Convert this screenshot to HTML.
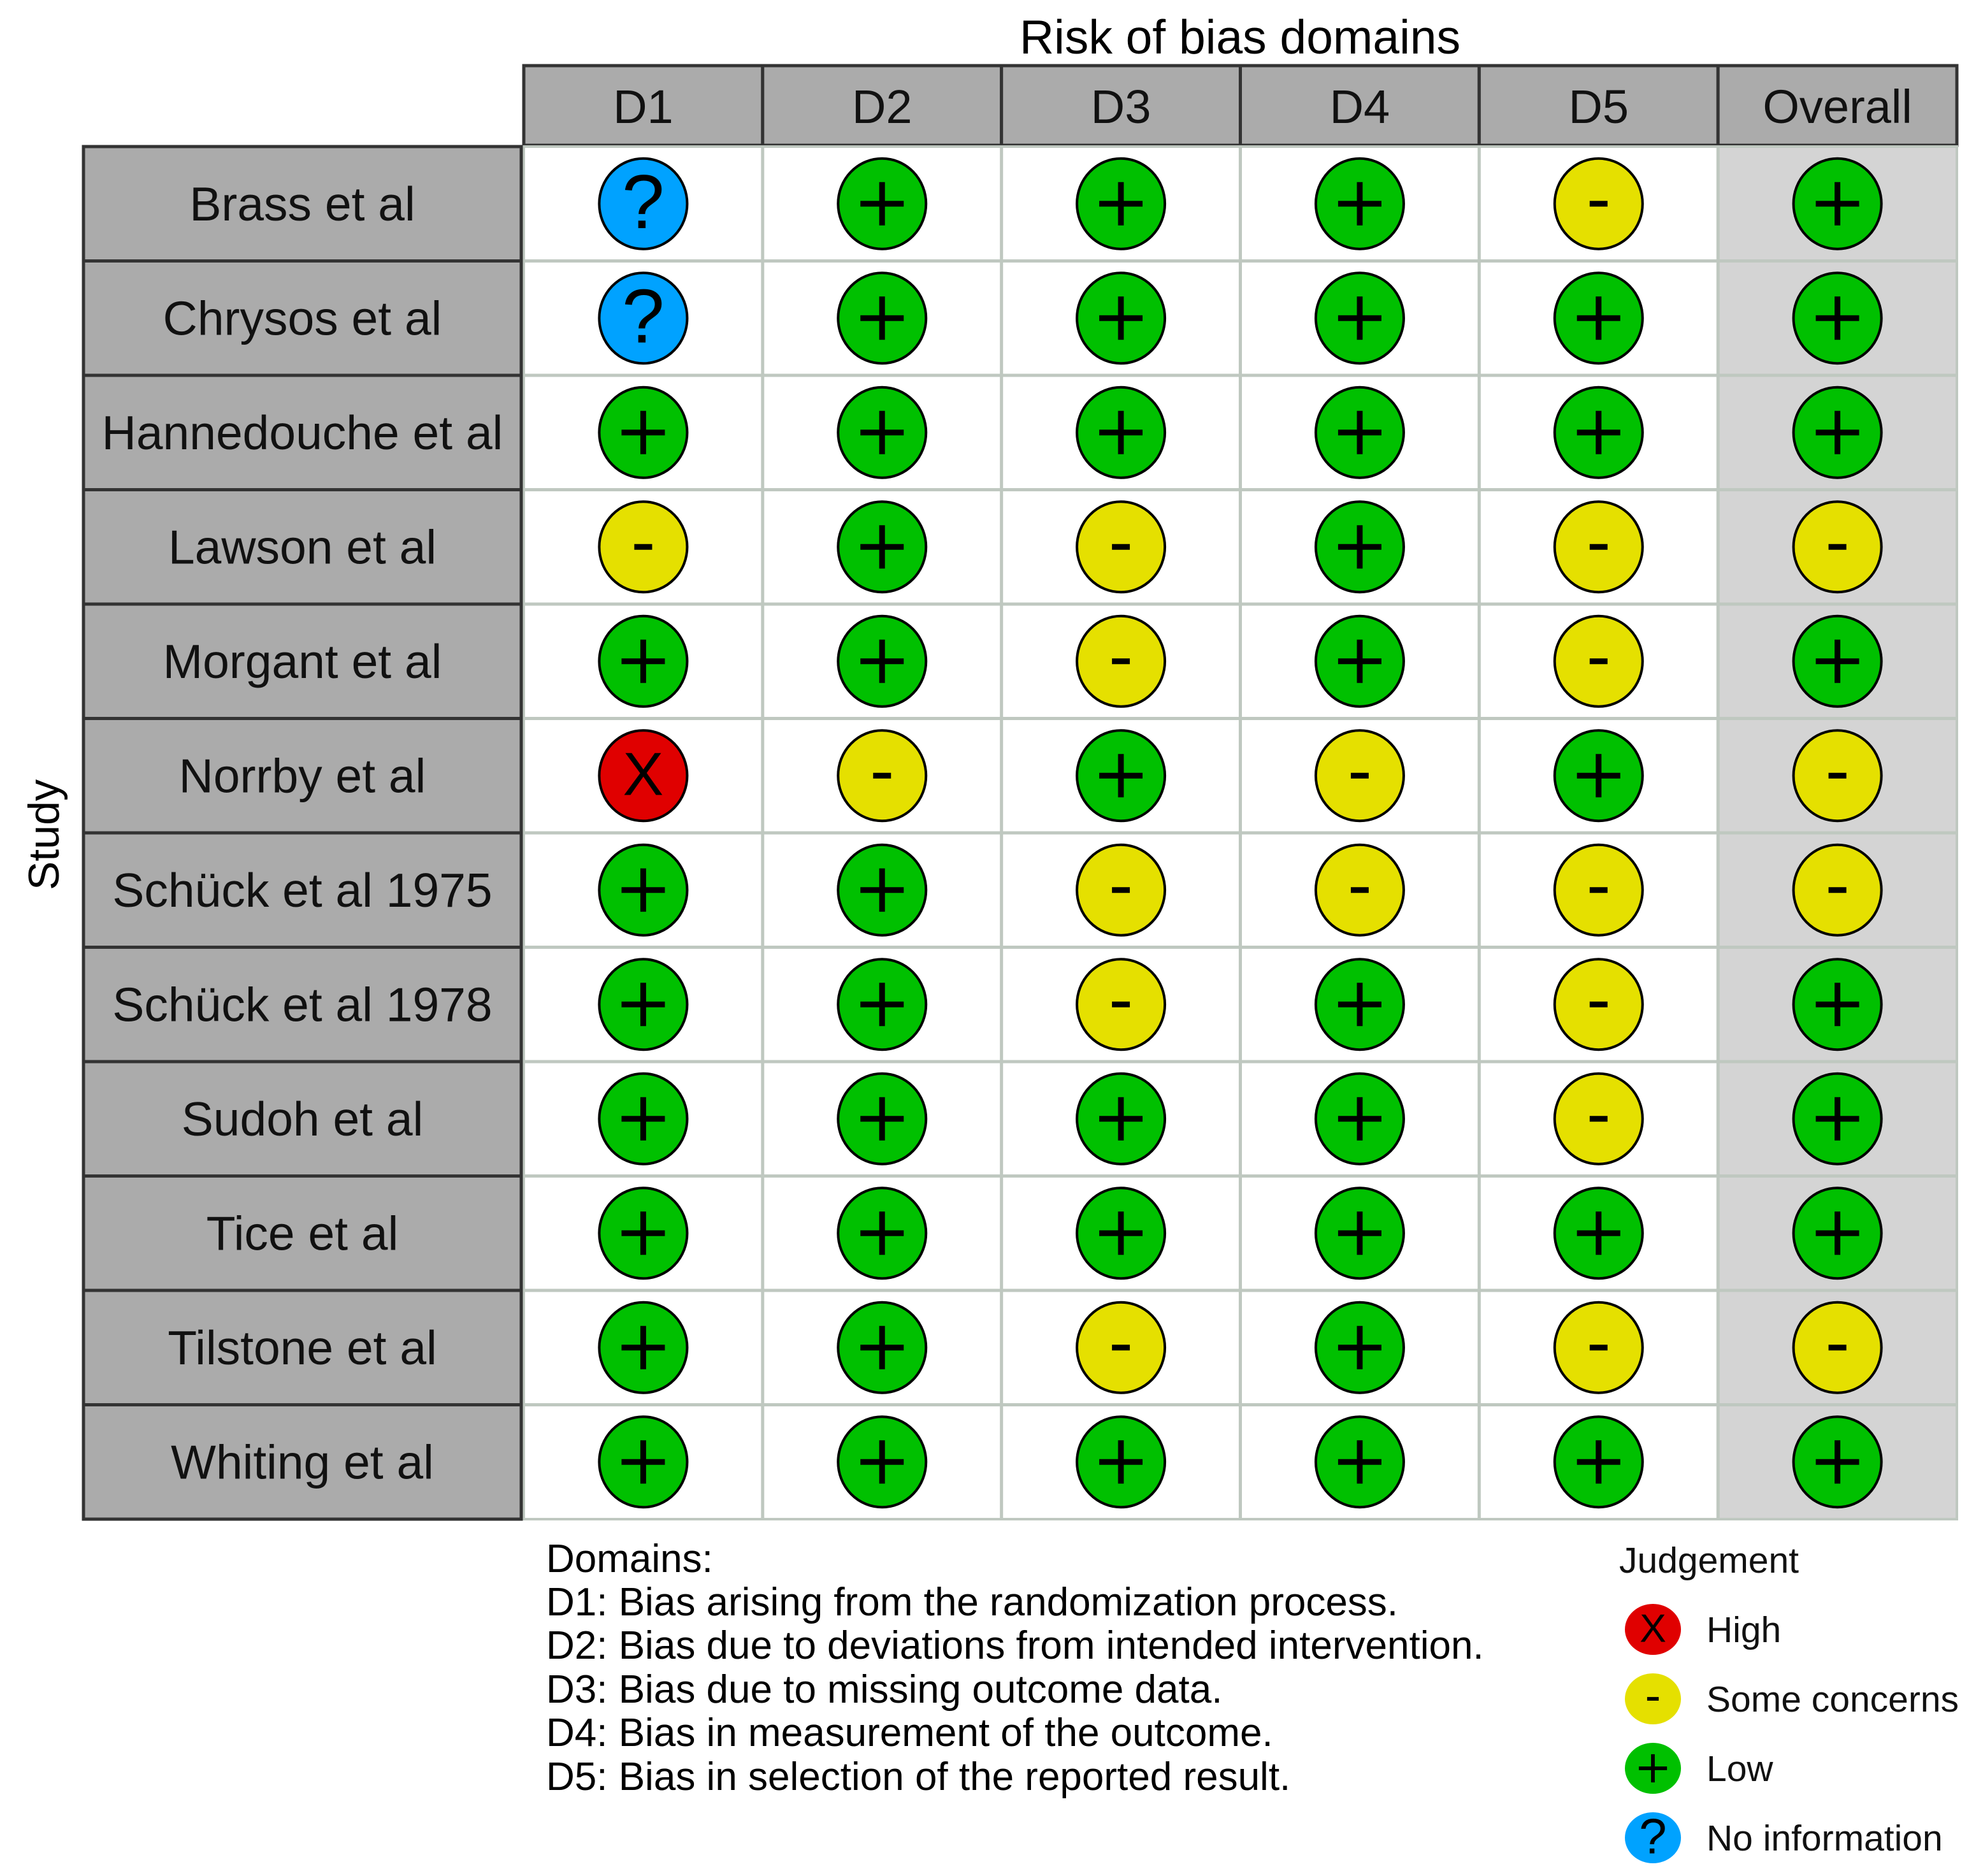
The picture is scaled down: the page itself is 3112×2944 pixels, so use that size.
<!DOCTYPE html>
<html><head><meta charset="utf-8"><style>
html,body{margin:0;padding:0;background:#fff;}
svg{display:block;font-family:"Liberation Sans",Arial,sans-serif;}
</style></head><body>
<svg id="chart" width="3112" height="2944" viewBox="0 0 3112 2944" xmlns="http://www.w3.org/2000/svg">
<text x="1946" y="84" font-size="75" text-anchor="middle" fill="#000">Risk of bias domains</text>
<text transform="translate(92,1310) rotate(-90)" font-size="68" text-anchor="middle" fill="#000">Study</text>
<g id="grid"></g>
<g id="legend-domains" font-size="62" fill="#000">
<text x="857" y="2467">Domains:</text>
<text x="857" y="2535">D1: Bias arising from the randomization process.</text>
<text x="857" y="2603">D2: Bias due to deviations from intended intervention.</text>
<text x="857" y="2672">D3: Bias due to missing outcome data.</text>
<text x="857" y="2740">D4: Bias in measurement of the outcome.</text>
<text x="857" y="2809">D5: Bias in selection of the reported result.</text>
</g>
<g id="legend"></g>
</svg>
<script>
const studies=["Brass et al","Chrysos et al","Hannedouche et al","Lawson et al","Morgant et al","Norrby et al","Schück et al 1975","Schück et al 1978","Sudoh et al","Tice et al","Tilstone et al","Whiting et al"];
const domains=["D1","D2","D3","D4","D5","Overall"];
const judgements=[
["N","L","L","L","S","L"],
["N","L","L","L","L","L"],
["L","L","L","L","L","L"],
["S","L","S","L","S","S"],
["L","L","S","L","S","L"],
["H","S","L","S","L","S"],
["L","L","S","S","S","S"],
["L","L","S","L","S","L"],
["L","L","L","L","S","L"],
["L","L","L","L","L","L"],
["L","L","S","L","S","S"],
["L","L","L","L","L","L"]];
const legendKeys=["H","S","L","N"];
const legendLabels=["High","Some concerns","Low","No information"];

const NS="http://www.w3.org/2000/svg";
const colors={H:"#e00000",S:"#e5e000",L:"#00c000",N:"#00a2ff"};
const gx0=822,gx1=3071,hy0=103,hy1=228,gy0=230,gy1=2384,lx0=131,lx1=818;
const cw=(gx1-gx0)/domains.length, rh=(gy1-gy0)/studies.length;
const xc=i=>gx0+cw*(i+0.5), yc=j=>gy0+rh*(j+0.5);
function mk(tag,attrs,parent){const e=document.createElementNS(NS,tag);for(const k in attrs)e.setAttribute(k,attrs[k]);parent.appendChild(e);return e;}
const g=document.getElementById('grid');
function symbol(parent,k,cx,cy,s){
  if(k==="L"){mk('path',{d:`M${cx-34*s},${cy}H${cx+34*s}M${cx},${cy-34*s}V${cy+34*s}`,stroke:"#000","stroke-width":9*s,fill:"none"},parent);}
  else if(k==="S"){mk('path',{d:`M${cx-14*s},${cy}H${cx+14*s}`,stroke:"#000","stroke-width":9*s,fill:"none"},parent);}
  else{const t=mk('text',{x:cx,y:cy+(k==="N"?38:30)*s,"font-size":(k==="N"?120:96)*s,"text-anchor":"middle",fill:"#000"},parent);t.textContent=k==="N"?"?":"X";}
}
const ob=mk('rect',{x:gx0+cw*5,y:gy0,width:cw,height:gy1-gy0,fill:"#d4d4d4"},g);


domains.forEach((d,i)=>{
  const r=mk('rect',{x:gx0+cw*i,y:hy0,width:cw,height:hy1-hy0,fill:"#ababab",stroke:"#333","stroke-width":5},g);
  
  
  const t=mk('text',{x:xc(i),y:hy0+90,"font-size":74,"text-anchor":"middle",fill:"#111"},g);
  
  
  t.textContent=d;
});
for(let i=1;i<domains.length;i++){const l=mk('line',{x1:gx0+cw*i,x2:gx0+cw*i,y1:gy0,y2:gy1,stroke:"#bfc8c0","stroke-width":5},g);}
for(let j=1;j<studies.length;j++){const l=mk('line',{x1:gx0,x2:gx1,y1:gy0+rh*j,y2:gy0+rh*j,stroke:"#bfc8c0","stroke-width":5},g);}
const fr=mk('rect',{x:gx0,y:gy0,width:gx1-gx0,height:gy1-gy0,fill:"none",stroke:"#bfc8c0","stroke-width":4},g);


studies.forEach((s,j)=>{
  const r=mk('rect',{x:lx0,y:gy0+rh*j,width:lx1-lx0,height:rh,fill:"#ababab",stroke:"#333","stroke-width":5},g);
  
  
  const t=mk('text',{x:(lx0+lx1)/2,y:yc(j)+26,"font-size":75,"text-anchor":"middle",fill:"#111"},g);
  
  
  t.textContent=s;
  judgements[j].forEach((k,i)=>{
    const c=mk('ellipse',{cx:xc(i),cy:yc(j),rx:69,ry:71,fill:colors[k],stroke:"#000","stroke-width":4},g);
    
    
    symbol(g,k,xc(i),yc(j),1);
  });
});
const lg=document.getElementById('legend');
const jt=mk('text',{x:2541,y:2468,"font-size":57,fill:"#111"},lg);


jt.textContent="Judgement";
legendKeys.forEach((k,i)=>{
  const cy=2557+109*i;
  const c=mk('ellipse',{cx:2594,cy:cy,rx:44,ry:40,fill:colors[k]},lg);
  
  
  symbol(lg,k,2594,cy,0.65);
  const t=mk('text',{x:2678,y:cy+20,"font-size":57,fill:"#111"},lg);
  
  
  t.textContent=legendLabels[i];
});
</script>
</body></html>
